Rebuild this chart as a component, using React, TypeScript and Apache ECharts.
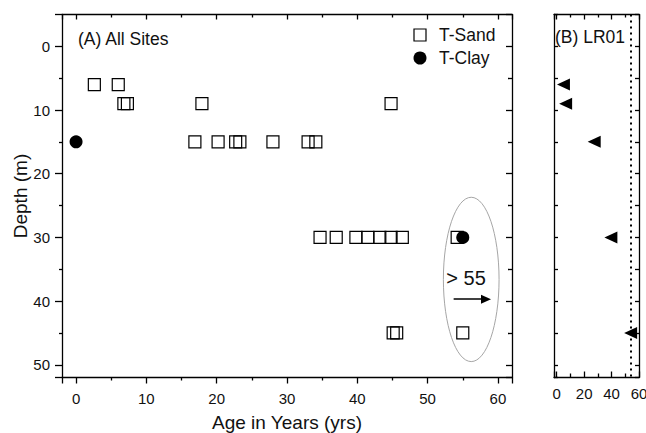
import React, { useEffect, useRef } from "react";
import * as echarts from "echarts";

// Panel A: T-Sand (open squares)
const sandAge = [2.6, 6.0, 6.8, 7.3, 17.9, 44.8, 16.9, 20.2, 22.7, 23.3, 28.0, 33.0, 34.1, 34.7, 37.0, 39.8, 41.5, 43.2, 44.8, 46.4, 54.2, 45.1, 45.6, 55.0];
const sandDepth = [6, 6, 9, 9, 9, 9, 15, 15, 15, 15, 15, 15, 15, 30, 30, 30, 30, 30, 30, 30, 30, 45, 45, 45];
// Panel A: T-Clay (filled circles)
const clayAge = [0, 55];
const clayDepth = [15, 30];
// Panel B: LR01 (left triangles)
const lrAge = [4.9, 6.5, 27.3, 39.5, 53.9];
const lrDepth = [6, 9, 15, 30, 45];
const lrThreshold = 54;
// Annotation: ellipse and arrow in data units
const ellipseCenter = [56.2, 36.6];
const ellipseRadii = [3.96, 12.9];
const arrowFrom = [53.7, 39.7];
const arrowTo = [58.3, 39.7];
// Tick labels
const xTicksA = [0, 10, 20, 30, 40, 50, 60];
const yTicks = [0, 10, 20, 30, 40, 50];
const xTicksB = [0, 20, 40, 60];

const FONT = "'Liberation Sans', Arial, sans-serif";
const BLACK = "#000";

export default function App() {
  const ref = useRef<HTMLDivElement>(null);
  useEffect(() => {
    if (!ref.current) return;
    const chart = echarts.init(ref.current, undefined, { renderer: "svg" });
    const line = { show: true, onZero: false, lineStyle: { color: BLACK, width: 1.3 } };
    const tickStyle = { color: BLACK, width: 1.3 };
    const labelFmt = (arr: number[]) => (v: number) => (arr.includes(v) ? String(v) : "");
    const option: any = {
      animation: false,
      backgroundColor: "#fff",
      textStyle: { fontFamily: FONT },
      grid: [
        { left: 62, top: 14.5, width: 450, height: 363, containLabel: false, outerBoundsMode: "none" },
        { left: 554, top: 14.5, width: 85, height: 363, containLabel: false, outerBoundsMode: "none" },
      ],
      xAxis: [
        {
          gridIndex: 0, type: "value", position: "bottom", min: -2, max: 62,
          axisLine: line, splitLine: { show: false },
          axisTick: { show: true, inside: false, length: 6, lineStyle: tickStyle },
          minorTick: { show: true, splitNumber: 2, length: 3, lineStyle: tickStyle },
          axisLabel: { show: true, margin: 13, fontSize: 15, color: "#111", fontFamily: FONT, formatter: labelFmt(xTicksA) },
          name: "Age in Years (yrs)", nameLocation: "middle", nameGap: 35, nameMoveOverlap: false,
          nameTextStyle: { fontSize: 19, color: "#111", fontFamily: FONT },
        },
        {
          gridIndex: 0, type: "value", position: "top", min: -2, max: 62,
          axisLine: line, splitLine: { show: false },
          axisTick: { show: true, inside: true, length: 5, lineStyle: tickStyle },
          minorTick: { show: true, splitNumber: 2, length: 3, lineStyle: tickStyle },
          axisLabel: { show: false },
        },
        {
          gridIndex: 1, type: "value", position: "bottom", min: -2, max: 60, splitNumber: 3,
          axisLine: line, splitLine: { show: false },
          axisTick: { show: true, inside: true, length: 6, lineStyle: tickStyle },
          minorTick: { show: true, splitNumber: 2, length: 4, lineStyle: tickStyle },
          axisLabel: { show: true, margin: 8, fontSize: 15, color: "#111", fontFamily: FONT, formatter: labelFmt(xTicksB) },
        },
        {
          gridIndex: 1, type: "value", position: "top", min: -2, max: 60, splitNumber: 3,
          axisLine: line, splitLine: { show: false },
          axisTick: { show: true, inside: true, length: 5, lineStyle: tickStyle },
          minorTick: { show: true, splitNumber: 2, length: 3, lineStyle: tickStyle },
          axisLabel: { show: false },
        },
      ],
      yAxis: [
        {
          gridIndex: 0, type: "value", position: "left", inverse: true, min: -5, max: 52,
          axisLine: line, splitLine: { show: false },
          axisTick: { show: true, inside: false, length: 7, lineStyle: tickStyle },
          minorTick: { show: true, splitNumber: 2, length: 3, lineStyle: tickStyle },
          axisLabel: { show: true, margin: 12, fontSize: 15, color: "#111", fontFamily: FONT, formatter: labelFmt(yTicks) },
          name: "Depth (m)", nameLocation: "middle", nameGap: 32, nameMoveOverlap: false,
          nameTextStyle: { fontSize: 19, color: "#111", fontFamily: FONT },
        },
        {
          gridIndex: 0, type: "value", position: "right", inverse: true, min: -5, max: 52,
          axisLine: line, splitLine: { show: false },
          axisTick: { show: true, inside: true, length: 6, lineStyle: tickStyle },
          minorTick: { show: true, splitNumber: 2, length: 4, lineStyle: tickStyle },
          axisLabel: { show: false },
        },
        {
          gridIndex: 1, type: "value", position: "left", inverse: true, min: -5, max: 52, interval: 5,
          axisLine: line, splitLine: { show: false },
          axisTick: { show: true, inside: true, length: 4, lineStyle: tickStyle },
          axisLabel: { show: false },
        },
        {
          gridIndex: 1, type: "value", position: "right", inverse: true, min: -5, max: 52, interval: 5,
          axisLine: line, splitLine: { show: false },
          axisTick: { show: true, inside: true, length: 4, lineStyle: tickStyle },
          axisLabel: { show: false },
        },
      ],
      series: [
        {
          name: "T-Sand", type: "scatter", xAxisIndex: 0, yAxisIndex: 0,
          symbol: "rect", symbolSize: 12,
          itemStyle: { color: "rgba(0,0,0,0)", borderColor: BLACK, borderWidth: 1.2, opacity: 1 },
          emphasis: { disabled: true },
          data: sandAge.map((a, i) => [a, sandDepth[i]]),
          z: 3,
        },
        {
          name: "T-Clay", type: "scatter", xAxisIndex: 0, yAxisIndex: 0,
          symbol: "circle", symbolSize: 13,
          itemStyle: { color: BLACK, opacity: 1 },
          emphasis: { disabled: true },
          data: clayAge.map((a, i) => [a, clayDepth[i]]),
          z: 4,
          markLine: {
            silent: true, animation: false,
            symbol: ["none", "triangle"], symbolSize: [9, 10],
            label: { show: false },
            lineStyle: { color: BLACK, width: 1.5, type: "solid" },
            emphasis: { disabled: true },
            data: [[{ coord: arrowFrom }, { coord: arrowTo }]],
          },
        },
        {
          name: "range", type: "custom", xAxisIndex: 0, yAxisIndex: 0,
          silent: true,
          data: [[ellipseCenter[0], ellipseCenter[1], ellipseRadii[0], ellipseRadii[1]]],
          renderItem: (_p: any, api: any) => {
            const c = api.coord([api.value(0), api.value(1)]);
            const s = api.size([api.value(2), api.value(3)]);
            return {
              type: "ellipse",
              shape: { cx: c[0], cy: c[1], rx: Math.abs(s[0]), ry: Math.abs(s[1]) },
              style: { fill: "none", stroke: "#a6a6a6", lineWidth: 1 },
            };
          },
          z: 2,
        },
        {
          name: "LR01", type: "scatter", xAxisIndex: 2, yAxisIndex: 2,
          symbol: "triangle", symbolSize: [12, 13], symbolRotate: 90,
          itemStyle: { color: BLACK, opacity: 1 },
          emphasis: { disabled: true },
          data: lrAge.map((a, i) => [a, lrDepth[i]]),
          z: 4,
          markLine: {
            silent: true, animation: false, symbol: ["none", "none"],
            label: { show: false },
            lineStyle: { color: BLACK, width: 2, type: [2, 4] },
            emphasis: { disabled: true },
            data: [{ xAxis: lrThreshold }],
          },
        },
      ],
      graphic: [
        { type: "text", x: 78, y: 39, style: { text: "(A) All Sites", fontSize: 17.5, fontFamily: FONT, fill: "#111", verticalAlign: "middle" } },
        { type: "rect", shape: { x: 414, y: 29, width: 12, height: 12 }, style: { fill: "none", stroke: BLACK, lineWidth: 1.2 } },
        { type: "text", x: 439, y: 35, style: { text: "T-Sand", fontSize: 17.5, fontFamily: FONT, fill: "#111", verticalAlign: "middle" } },
        { type: "circle", shape: { cx: 420, cy: 58, r: 6.5 }, style: { fill: BLACK } },
        { type: "text", x: 439, y: 58, style: { text: "T-Clay", fontSize: 17.5, fontFamily: FONT, fill: "#111", verticalAlign: "middle" } },
        { type: "text", x: 466, y: 278, style: { text: "> 55", fontSize: 20, fontFamily: FONT, fill: "#111", align: "center", verticalAlign: "middle" } },
        { type: "text", x: 555, y: 37, style: { text: "(B) LR01", fontSize: 17.5, fontFamily: FONT, fill: "#111", verticalAlign: "middle" } },
      ],
    };
    chart.setOption(option);
    return () => chart.dispose();
  }, []);
  return <div ref={ref} style={{ position: "absolute", left: 0, top: 0, width: 646, height: 433 }} />;
}
